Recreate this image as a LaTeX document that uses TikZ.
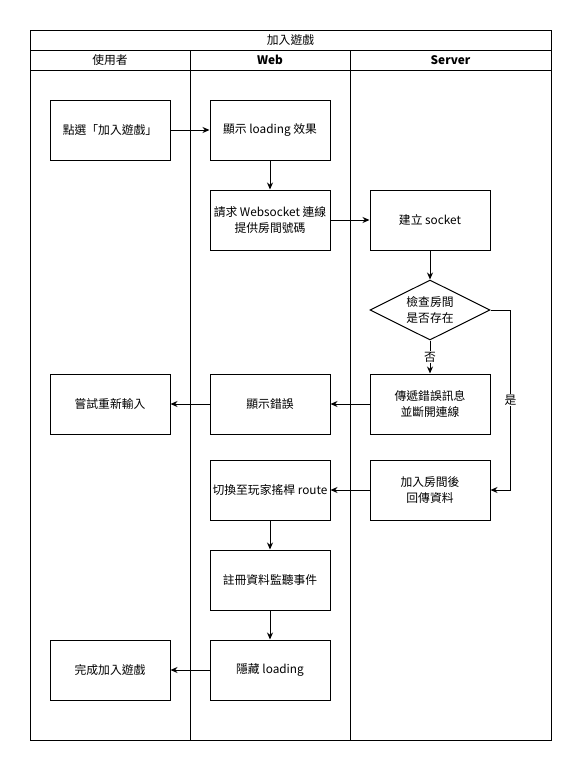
\documentclass[tikz,border=0pt]{standalone}
\usepackage{fontspec}
\setmainfont{Noto Sans CJK TC}
\usetikzlibrary{shapes.geometric,arrows.meta}

\begin{document}
\begin{tikzpicture}[
            x=1pt, y=-1pt,
            every node/.style = {font=\fontsize{11.8}{15.5}\selectfont, align=center},
            stepbox/.style = {draw=black, line width=1pt, fill=white, minimum width=120pt, minimum height=60pt, inner sep=0pt},
            checkbox/.style = {shape=diamond, draw=black, line width=1pt, fill=white, minimum width=120pt, minimum height=60pt, inner sep=0pt, aspect=2},
            lane/.style = {draw=black, line width=1pt},
            head/.style = {font=\fontsize{11.8}{14}\selectfont},
            headbold/.style = {font=\fontsize{11.8}{14}\selectfont\bfseries},
            flow/.style = {draw=black, line width=1pt, -{Stealth[length=7pt,width=6pt]}},
            tag/.style = {fill=white, inner sep=1pt}
          ]
          \useasboundingbox (0,0) rectangle (581,771);
          % pool and lanes
          \draw[lane] (30,30) rectangle (551,740);
          \draw[lane] (30,50) -- (551,50);
          \draw[lane] (30,70) -- (551,70);
          \draw[lane] (190,50) -- (190,740);
          \draw[lane] (350,50) -- (350,740);
          \node[head] (pool) at (290.5,40) {加入遊戲};
          \node[head] (user) at (110,60) {使用者};
          \node[headbold] (web) at (270,60) {Web};
          \node[headbold] (server) at (450.5,60) {Server};

          % steps
          \node[stepbox] (click) at (110,130) {點選「加入遊戲」};
          \node[stepbox] (loading) at (270,130) {顯示 loading 效果};
          \node[stepbox] (request) at (270,220) {請求 Websocket 連線\\提供房間號碼};
          \node[stepbox] (socket) at (430,220) {建立 socket};
          \node[checkbox] (check) at (430,310) {檢查房間\\是否存在};
          \node[stepbox] (senderr) at (430,404) {傳遞錯誤訊息\\並斷開連線};
          \node[stepbox] (showerr) at (270,404) {顯示錯誤};
          \node[stepbox] (retry) at (110,404) {嘗試重新輸入};
          \node[stepbox] (joinroom) at (430,490) {加入房間後\\回傳資料};
          \node[stepbox] (route) at (270,490) {切換至玩家搖桿 route};
          \node[stepbox] (register) at (270,580) {註冊資料監聽事件};
          \node[stepbox] (hide) at (270,670) {隱藏 loading};
          \node[stepbox] (done) at (110,670) {完成加入遊戲};

          % connectors
          \draw[flow] (click) -- (loading);
          \draw[flow] (loading) -- (request);
          \draw[flow] (request) -- (socket);
          \draw[flow] (socket) -- (check);
          \draw[flow] (check) -- node[tag] {否} (senderr);
          \draw[flow] (check.east) -- ++(20,0) |- node[tag, pos=0.25] {是} (joinroom.east);
          \draw[flow] (senderr) -- (showerr);
          \draw[flow] (showerr) -- (retry);
          \draw[flow] (joinroom) -- (route);
          \draw[flow] (route) -- (register);
          \draw[flow] (register) -- (hide);
          \draw[flow] (hide) -- (done);
        \end{tikzpicture}
\end{document}
